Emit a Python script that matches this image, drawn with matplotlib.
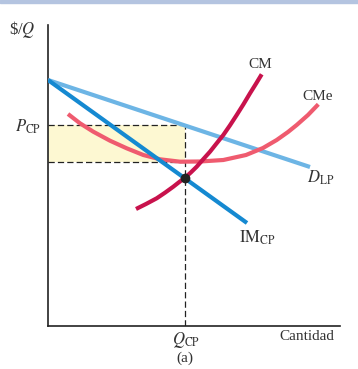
import matplotlib.pyplot as plt
import matplotlib.patches as mpatches

plt.rcParams['font.family'] = 'Liberation Serif'
plt.rcParams['mathtext.fontset'] = 'stix'

# quantities (x) and prices (y), arbitrary units
d_q = [0, 262]
d_p = [246, 159]

im_q = [0, 199]
im_p = [246, 103]

cm_q = [88, 98, 108.7, 117, 125.3, 131, 137, 143, 148.7, 155, 162, 168.5, 175.3, 182, 188.7, 195.5, 202, 208, 213.7]
cm_p = [117, 122, 127.7, 133.3, 139.3, 143.8, 148.3, 153.7, 159.3, 166.5, 174.3, 182.5, 191, 200.7, 211, 221.8, 232.7, 242.3, 251.7]

cme_q = [20, 32, 45.3, 62, 78.7, 95.3, 112, 132, 152, 175.3, 198, 215, 228.7, 240, 248.7, 260, 270.3]
cme_p = [212, 202.7, 194.3, 185.3, 177.7, 171, 166.7, 164.3, 164.5, 166, 171, 178, 186, 194, 201, 211, 221.7]

q_cp = 137
p_cp = 201
cme_at_qcp = 164
p_eq = 148.5

fig = plt.figure(figsize=(3.58, 3.69), dpi=100)
ax = fig.add_axes([48 / 358, 1 - 326 / 369, 292 / 358, 301 / 369])
ax.set_xlim(0, 292)
ax.set_ylim(0, 301)

# top strip
fig.patches.append(mpatches.Rectangle((0, 1 - 2.5 / 369), 1, 2.5 / 369,
                                      transform=fig.transFigure,
                                      color='#b4c4e0', zorder=0))

dash = (0, (5, 2.5))
ax.fill_between([0, q_cp], cme_at_qcp, p_cp, color='#fdf8d2', zorder=1, lw=0)
ax.plot([0, q_cp], [p_cp, p_cp], color='#222222', lw=0.9, ls=dash, zorder=2)
ax.plot([0, q_cp], [cme_at_qcp, cme_at_qcp], color='#222222', lw=0.9, ls=dash, zorder=2)
ax.plot([q_cp, q_cp], [0, p_cp], color='#222222', lw=0.9, ls=dash, zorder=2)

ax.plot(d_q, d_p, color='#6db5e5', lw=3, solid_capstyle='butt', zorder=3)
ax.plot(cme_q, cme_p, color='#ef5b6f', lw=3, solid_capstyle='butt',
        solid_joinstyle='round', zorder=3)
ax.plot(im_q, im_p, color='#1589d1', lw=3, solid_capstyle='butt', zorder=4)
ax.plot(cm_q, cm_p, color='#c8124c', lw=3, solid_capstyle='butt',
        solid_joinstyle='round', zorder=4)
ax.plot([q_cp], [p_eq], 'o', color='#222222', ms=6, zorder=5)

for s in ['top', 'right']:
    ax.spines[s].set_visible(False)
for s in ['left', 'bottom']:
    ax.spines[s].set_linewidth(1.2)
    ax.spines[s].set_color('#222222')
ax.set_xticks([])
ax.set_yticks([])

tc = '#333333'
fig.text(22 / 358, 1 - 30 / 369, r'\$/$Q$', fontsize=12, color=tc, ha='center', va='center')
fig.text(28 / 358, 1 - 127 / 369, r'$P_{\mathrm{CP}}$', fontsize=12, color=tc, ha='center', va='center')
fig.text(186 / 358, 1 - 340 / 369, r'$Q_{\mathrm{CP}}$', fontsize=12, color=tc, ha='center', va='center')
fig.text(185 / 358, 1 - 358 / 369, '(a)', fontsize=11, color=tc, ha='center', va='center')
fig.text(307 / 358, 1 - 337 / 369, 'Cantidad', fontsize=11, color=tc, ha='center', va='center')
fig.text(260 / 358, 1 - 64 / 369, 'CM', fontsize=11, color=tc, ha='center', va='center')
fig.text(318 / 358, 1 - 96 / 369, 'CMe', fontsize=11, color=tc, ha='center', va='center')
fig.text(321 / 358, 1 - 178 / 369, r'$D_{\mathrm{LP}}$', fontsize=12, color=tc, ha='center', va='center')
fig.text(257 / 358, 1 - 238 / 369, r'$\mathrm{IM}_{\mathrm{CP}}$', fontsize=12, color=tc, ha='center', va='center')

fig.savefig('out.png', dpi=100)
